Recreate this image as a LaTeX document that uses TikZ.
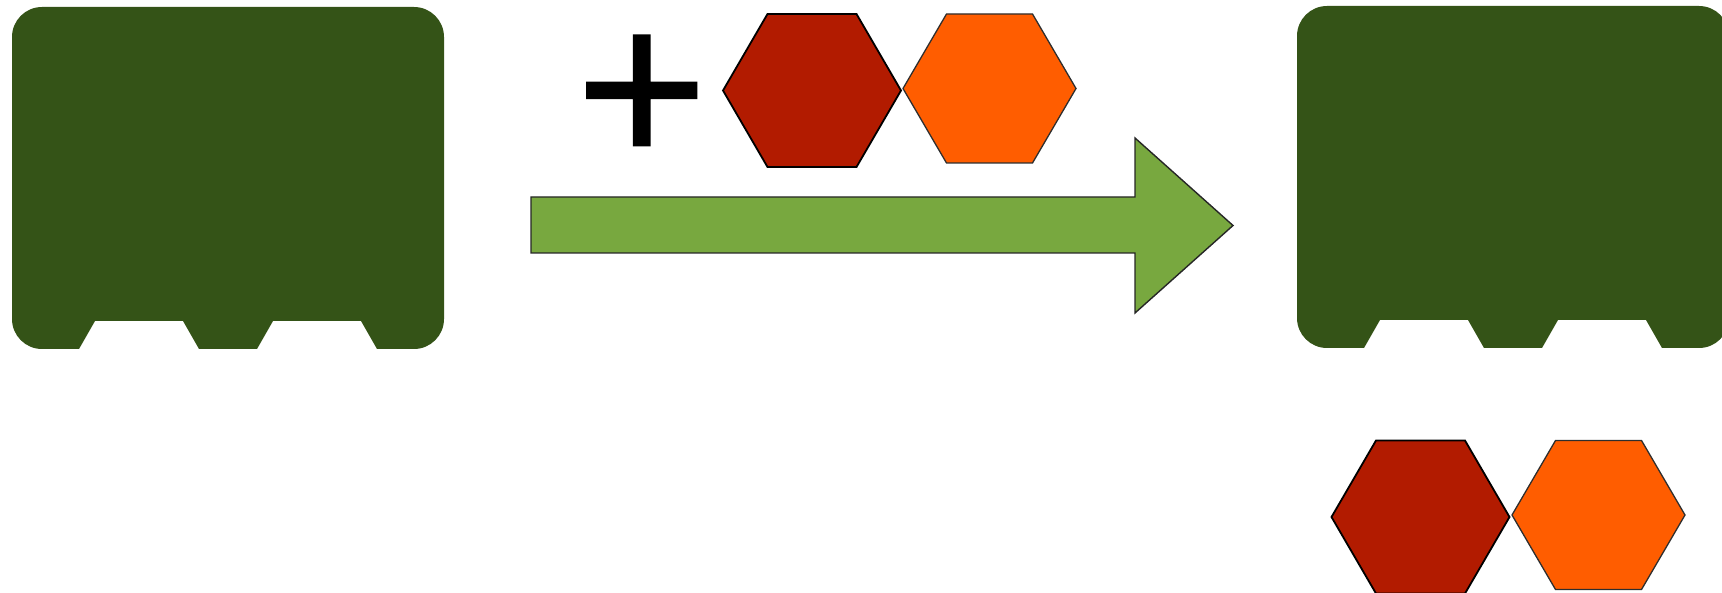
\documentclass[tikz,border=0pt]{standalone}
\usepackage{fontspec}
\setmainfont{Liberation Sans}
\newfontfamily\plusfont[FakeBold=0.7]{Liberation Sans}
\definecolor{blockgreen}{HTML}{345317}
\definecolor{hexred}{HTML}{B21B00}
\definecolor{hexorange}{HTML}{FF5D00}
\definecolor{arrowgreen}{HTML}{78A83F}
\definecolor{edgegray}{HTML}{2E2E2E}
\tikzset{
  pallet/.pic={
    \fill[blockgreen] (67,342) -- (30,342) arc(90:180:30) -- (0,30) arc(180:270:30)
      -- (402,0) arc(270:360:30) -- (432,312) arc(0:90:30)
      -- (365,342) -- (349,314) -- (261,314) -- (245,342)
      -- (187,342) -- (171,314) -- (83,314) -- cycle;
  },
  redhex/.style={fill=hexred, draw=black, line width=1.8pt, line join=miter},
  orangehex/.style={fill=hexorange, draw=edgegray, line width=1.3pt, line join=miter},
  bigarrow/.style={fill=arrowgreen, draw=black!85, line width=1.4pt, line join=miter},
  plussign/.style={inner sep=0pt, outer sep=0pt, font=\plusfont\fontsize{226}{226}\selectfont}
}
\begin{document}
\begin{tikzpicture}[x=1pt, y=-1pt]
\useasboundingbox (0,0) rectangle (1722,593);
\clip (0,0) rectangle (1722,593);
% left block
\pic at (12,7) {pallet};
% right block
\pic at (1297,6) {pallet};
% plus
\node[plussign, anchor=base] (plus) at (641.8,165.5) {+};
% top hexagons
\path[redhex] (723,90.5) -- (767.5,14) -- (856.5,14) -- (901,90.5) -- (856.5,167) -- (767.5,167) -- cycle;
\path[orangehex] (903,88.5) -- (946.5,14) -- (1032.5,14) -- (1076,88.5) -- (1032.5,163) -- (946.5,163) -- cycle;
% arrow
\path[bigarrow] (531,197) -- (1135,197) -- (1135,138) -- (1233,225.5) -- (1135,313) -- (1135,253) -- (531,253) -- cycle;
% bottom hexagons
\path[redhex] (1331.5,517) -- (1376,440.5) -- (1465,440.5) -- (1509.5,517) -- (1465,593.5) -- (1376,593.5) -- cycle;
\path[orangehex] (1512,515) -- (1555.5,440.5) -- (1641.5,440.5) -- (1685,515) -- (1641.5,589.5) -- (1555.5,589.5) -- cycle;
\end{tikzpicture}
\end{document}
